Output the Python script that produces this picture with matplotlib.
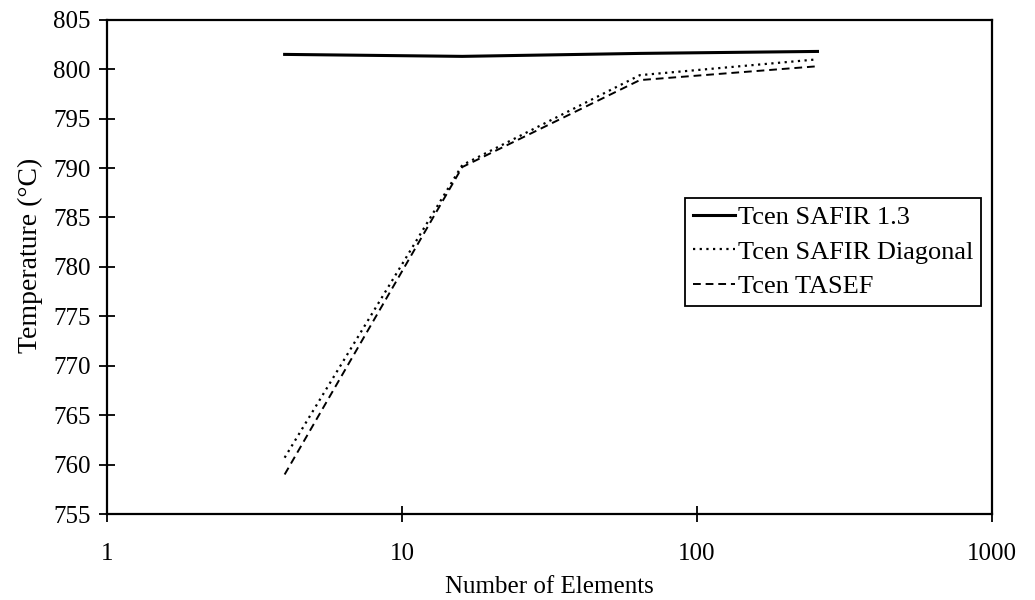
import numpy as np
import matplotlib
matplotlib.use("Agg")
import matplotlib.pyplot as plt

# datos
elementos = [4, 16, 64, 256]
safir_13 = [801.5, 801.3, 801.6, 801.8]
safir_diag = [760.7, 790.3, 799.4, 801.0]
tasef = [759.0, 790.1, 798.9, 800.3]

plt.rcParams['font.family'] = ['Liberation Serif', 'DejaVu Serif']

fig, ax = plt.subplots(figsize=(10.35, 6), dpi=100)
fig.subplots_adjust(left=0.1034, right=0.9585, top=0.967, bottom=0.1433)

ax.plot(elementos, safir_13, color='black', linestyle='-', linewidth=2.2, label='Tcen SAFIR 1.3')
ax.plot(elementos, safir_diag, color='black', linestyle=(0, (1, 2)), linewidth=1.6, label='Tcen SAFIR Diagonal')
ax.plot(elementos, tasef, color='black', linestyle=(0, (4, 2.5)), linewidth=1.4, label='Tcen TASEF')

ax.set_xscale('log')
ax.set_xlim(1, 1000)
ax.set_ylim(755, 805)
ax.set_xticks([1, 10, 100, 1000])
ax.set_xticklabels(['1', '10', '100', '1000'])
ax.set_yticks(np.arange(755, 806, 5))
ax.minorticks_off()
ax.tick_params(axis='both', direction='inout', length=11.5, width=1.3, labelsize=18)
ax.tick_params(axis='y', pad=6)
ax.tick_params(axis='x', pad=15)

for s in ax.spines.values():
    s.set_linewidth(1.6)

ax.set_xlabel('Number of Elements', fontsize=18, labelpad=8)
ax.set_ylabel('Temperature (°C)', fontsize=20)
ax.yaxis.set_label_coords(-0.072, 0.524)

leg = ax.legend(loc='upper left', bbox_to_anchor=(0.653, 0.64), fontsize=19,
                frameon=True, fancybox=False, edgecolor='black', framealpha=1,
                handlelength=1.6, handletextpad=0.1, borderpad=0.3, labelspacing=0.42,
                borderaxespad=0)
leg.get_frame().set_linewidth(1.3)

plt.savefig('out.png', dpi=100)
